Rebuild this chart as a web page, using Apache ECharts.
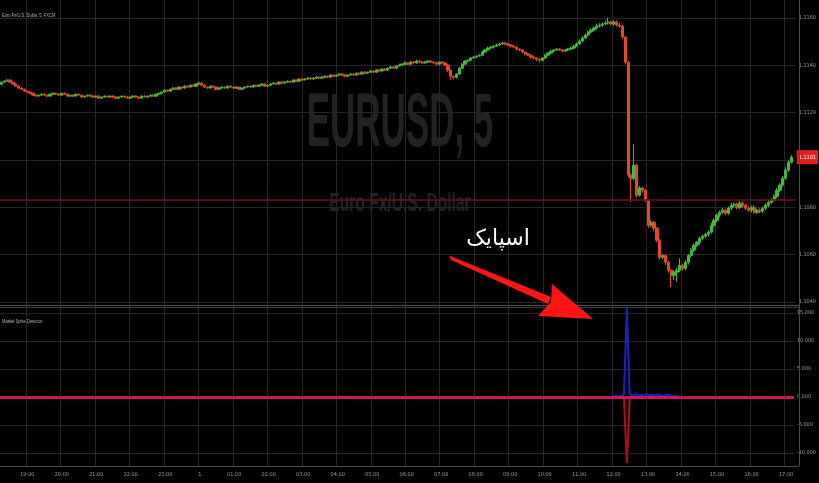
<!DOCTYPE html>
<html><head><meta charset="utf-8">
<script src="https://cdn.jsdelivr.net/npm/echarts@6/dist/echarts.min.js"></script>
<style>html,body{margin:0;padding:0;background:#000;}#c{width:819px;height:483px;}</style>
</head><body><div id="c"></div>
<script>
// ---- data ----
const firstOpen = 1.11320;
const closes = [
1.11329,1.11333,1.11338,1.11329,1.11321,1.11312,1.11304,1.11299,1.11291,1.11287,
1.11282,1.11274,1.11270,1.11274,1.11278,1.11274,1.11270,1.11278,1.11282,1.11278,
1.11274,1.11282,1.11278,1.11270,1.11274,1.11270,1.11278,1.11274,1.11266,1.11270,
1.11274,1.11270,1.11266,1.11270,1.11261,1.11266,1.11270,1.11266,1.11270,1.11266,
1.11261,1.11266,1.11270,1.11266,1.11261,1.11266,1.11270,1.11266,1.11261,1.11270,
1.11266,1.11270,1.11274,1.11270,1.11278,1.11282,1.11287,1.11295,1.11291,1.11299,
1.11304,1.11299,1.11308,1.11304,1.11312,1.11308,1.11316,1.11312,1.11321,1.11325,
1.11316,1.11308,1.11304,1.11312,1.11308,1.11299,1.11304,1.11308,1.11304,1.11312,
1.11308,1.11304,1.11308,1.11299,1.11304,1.11308,1.11312,1.11308,1.11316,1.11312,
1.11316,1.11321,1.11312,1.11316,1.11321,1.11325,1.11321,1.11329,1.11325,1.11329,
1.11333,1.11329,1.11338,1.11333,1.11342,1.11338,1.11342,1.11346,1.11342,1.11346,
1.11350,1.11346,1.11350,1.11354,1.11350,1.11359,1.11354,1.11359,1.11363,1.11359,
1.11354,1.11359,1.11363,1.11359,1.11367,1.11363,1.11371,1.11367,1.11371,1.11376,
1.11371,1.11380,1.11376,1.11384,1.11380,1.11388,1.11393,1.11388,1.11397,1.11401,
1.11405,1.11410,1.11405,1.11414,1.11410,1.11418,1.11414,1.11410,1.11414,1.11418,
1.11414,1.11410,1.11405,1.11414,1.11410,1.11401,1.11380,1.11354,1.11350,1.11363,
1.11388,1.11405,1.11418,1.11422,1.11431,1.11435,1.11439,1.11443,1.11456,1.11465,
1.11473,1.11477,1.11481,1.11486,1.11490,1.11494,1.11490,1.11486,1.11481,1.11477,
1.11469,1.11465,1.11456,1.11448,1.11443,1.11435,1.11431,1.11426,1.11422,1.11431,
1.11443,1.11452,1.11460,1.11465,1.11469,1.11465,1.11460,1.11465,1.11469,1.11473,
1.11481,1.11490,1.11503,1.11515,1.11528,1.11541,1.11549,1.11558,1.11566,1.11570,
1.11575,1.11579,1.11583,1.11575,1.11583,1.11570,1.11566,1.11520,1.11414,1.10936,
1.10923,1.10978,1.10851,1.10882,1.10872,1.10830,1.10724,1.10737,1.10712,1.10661,
1.10589,1.10597,1.10568,1.10534,1.10513,1.10526,1.10534,1.10555,1.10542,1.10568,
1.10597,1.10619,1.10640,1.10652,1.10669,1.10678,1.10686,1.10695,1.10724,1.10745,
1.10767,1.10779,1.10788,1.10775,1.10796,1.10809,1.10813,1.10800,1.10817,1.10809,
1.10796,1.10788,1.10800,1.10779,1.10788,1.10784,1.10796,1.10809,1.10821,1.10830,
1.10847,1.10872,1.10894,1.10923,1.10957,1.10991,1.11012
];
// wick lengths beyond the body, in pipettes (0.00001)
const hiWick = [
3,4,3,2,3,2,3,3,2,3, 2,3,3,2,3,4,2,3,3,2, 3,2,3,3,2,3,3,2,3,2, 3,3,2,3,3,2,3,2,3,3,
2,3,3,2,3,2,3,3,2,3, 3,2,3,3,2,3,3,4,3,3, 4,3,3,2,4,3,3,3,4,6, 3,3,2,3,3,2,3,3,2,3,
3,3,2,3,3,3,2,3,3,2, 3,3,2,3,3,3,2,3,3,4, 3,3,4,3,3,2,3,4,3,3, 3,3,4,3,3,4,3,3,4,3,
3,3,4,3,3,3,4,3,3,4, 3,4,3,3,4,3,5,3,4,6, 4,6,3,5,4,6,4,3,5,4, 3,4,6,3,4,3,3,2,3,4,
6,5,4,3,4,5,3,4,6,5, 6,4,5,6,7,6,4,3,3,3, 3,3,3,2,3,3,2,3,3,3, 4,3,5,4,3,3,3,4,5,6,
6,7,6,8,7,6,8,7,10,8, 7,10,18,6,8,7,10,6,5,3, 8,90,6,8,5,6,4,8,5,4,
6,5,4,6,5,8,10,30,6,8, 6,8,7,6,8,7,6,8,10,8, 7,8,10,6,8,12,7,6,10,8,
6,8,7,10,6,8,7,8,10,8, 8,10,8,10,12,10,8
];
const loWick = [
2,3,2,3,3,2,3,3,2,3, 3,3,3,2,3,3,4,2,3,3, 2,3,3,2,3,3,2,3,3,3, 3,2,3,3,2,3,3,2,3,3,
3,2,3,3,2,3,2,3,3,2, 2,3,3,2,3,2,3,2,3,3, 3,3,2,4,3,3,2,3,3,2, 4,3,3,3,2,4,3,3,3,3,
3,2,3,3,3,2,3,3,2,3, 2,3,3,2,3,3,3,2,3,3, 3,3,2,3,3,3,2,3,3,3, 3,3,3,2,3,3,4,3,3,3,
3,3,3,4,3,3,3,4,3,3, 4,3,4,3,3,4,3,3,4,3, 3,4,3,5,3,4,6,4,3,4, 4,3,4,6,3,4,8,15,10,6,
4,3,4,5,3,4,5,4,3,4, 3,4,5,3,4,3,5,4,6,5, 6,5,4,6,5,7,6,8,10,6, 5,4,6,5,3,4,5,3,4,3,
4,3,4,5,4,6,4,5,4,6, 6,5,7,6,8,6,7,8,10,8, 100,8,10,6,10,8,10,6,12,8,
10,8,12,10,50,20,40,8,10,8, 10,8,6,8,10,7,8,10,6,8, 8,10,7,8,6,8,10,8,7,10,
8,7,10,8,7,10,8,7,8,6, 6,8,7,6,8,6,5
];
const refLevel = 1.1083;
const priceMin = 1.104, priceMax = 1.116, priceStep = 0.002;
const oscMin = -10, oscMax = 15, oscStep = 5;
const spikeStart = 214;
const spikeUp = [0.1,0.2,0.1,0.2,0.4,15.9,0.6,0.2,0.5,0.3,0.4,0.2,0.5,0.3,0.4,0.2,0.5,0.3,0.2,0.4,0.3,0.2,0.1,0.3];
const spikeDown = [-0.1,-0.1,-0.2,-0.1,-0.3,-11.8,-0.3,-0.2,-0.1,-0.1,0,-0.1,0,-0.1,0,0,-0.1,0,0,0,0,0,0,0];
const zeroLevel = 0;
const timeLabels = ['19:00','20:00','21:00','22:00','23:00','1','01:00','02:00','03:00','04:00','05:00','06:00',
  '07:00','08:00','09:00','10:00','11:00','12:00','13:00','14:00','15:00','16:00','17:00'];
const labelFirstIndex = 9, labelStep = 12, slotCount = 278;
const symbolTitle = 'Euro Fx/U.S. Dollar, 5, FXCM';
const watermark = 'EURUSD, 5';
const watermarkSub = 'Euro Fx/U.S. Dollar';
const indicatorTitle = 'Market Spike Detector';
const annotation = 'اسپایک';

// ---- build ----
const cats = [];
for (let i = 0; i < slotCount; i++) cats.push(String(i));
const candles = closes.map((c, i) => {
  const o = i === 0 ? firstOpen : closes[i - 1];
  const hi = Math.max(o, c) + hiWick[i] * 1e-5;
  const lo = Math.min(o, c) - loWick[i] * 1e-5;
  return [o, c, lo, hi];
});
const upData = new Array(closes.length).fill(null);
const dnData = new Array(closes.length).fill(null);
spikeUp.forEach((v, k) => upData[spikeStart + k] = v);
spikeDown.forEach((v, k) => dnData[spikeStart + k] = v);
const isLabel = (idx) => idx >= labelFirstIndex && (idx - labelFirstIndex) % labelStep === 0;
const lastClose = closes[closes.length - 1];

const narrow = 'Liberation Sans Narrow, DejaVu Sans Condensed, Liberation Sans, sans-serif';
const axisFont = { fontSize: 5.5, color: '#9a9a9a', fontFamily: narrow };
const gridLine = { color: '#262626', width: 1 };

const chart = echarts.init(document.getElementById('c'), null, { renderer: 'canvas' });
chart.setOption({
  backgroundColor: '#000',
  animation: false,
  grid: [
    { left: 0, right: 20, top: 18, height: 284 },
    { left: 0, right: 20, top: 313, height: 140 },
    { left: 0, right: 20, top: 0, height: 466 }
  ],
  xAxis: [
    { gridIndex: 0, type: 'category', data: cats, show: false },
    { gridIndex: 1, type: 'category', data: cats, show: false },
    { gridIndex: 2, type: 'category', data: cats,
      axisLine: { show: true, lineStyle: { color: '#4a4a4a' } },
      axisTick: { show: false },
      axisLabel: Object.assign({ interval: (idx) => isLabel(idx), margin: 6,
        formatter: (v, idx) => isLabel(idx) ? timeLabels[(idx - labelFirstIndex) / labelStep] : '' }, axisFont),
      splitLine: { show: true, interval: (idx) => isLabel(idx), lineStyle: gridLine } }
  ],
  yAxis: [
    { gridIndex: 0, type: 'value', position: 'right', min: priceMin, max: priceMax, interval: priceStep,
      axisLine: { show: false }, axisTick: { show: false },
      axisLabel: Object.assign({ margin: 3, formatter: (v) => v.toFixed(4) }, axisFont),
      splitLine: { show: true, lineStyle: gridLine } },
    { gridIndex: 1, type: 'value', position: 'right', min: oscMin, max: oscMax, interval: oscStep,
      axisLine: { show: false }, axisTick: { show: false },
      axisLabel: Object.assign({ margin: 3, formatter: (v) => v.toFixed(3) }, axisFont),
      splitLine: { show: true, lineStyle: gridLine } },
    { gridIndex: 2, type: 'value', min: 0, max: 1, show: false }
  ],
  series: [
    { type: 'line', xAxisIndex: 0, yAxisIndex: 0, data: closes, symbol: 'none', silent: true, z: 1,
      lineStyle: { opacity: 0 },
      markLine: { silent: true, symbol: 'none', animation: false, precision: 5,
        data: [
          { yAxis: refLevel, lineStyle: { color: '#701010', width: 1.5, type: 'solid' }, label: { show: false } },
          { yAxis: lastClose, lineStyle: { color: 'rgba(0,0,0,0)', width: 0.1, type: 'solid' },
            label: { show: true, position: 'end', distance: 1, formatter: () => lastClose.toFixed(4),
              backgroundColor: '#e3201b', color: '#fff', fontSize: 5.5, padding: [4, 2], fontFamily: narrow } }
        ] } },
    { type: 'candlestick', xAxisIndex: 0, yAxisIndex: 0, data: candles, clip: false, barWidth: 2.8, z: 3,
      itemStyle: { color: '#43b83a', color0: '#e8452a', borderColor: '#43b83a', borderColor0: '#e8452a', borderWidth: 1 } },
    { type: 'line', xAxisIndex: 1, yAxisIndex: 1, data: dnData, clip: false, symbol: 'none', z: 2,
      lineStyle: { color: '#b3100e', width: 2 },
      markLine: { silent: true, symbol: 'none', label: { show: false }, precision: 3,
        lineStyle: { color: '#d0145a', width: 3, type: 'solid' }, data: [{ yAxis: zeroLevel }] } },
    { type: 'line', xAxisIndex: 1, yAxisIndex: 1, data: upData, clip: false, symbol: 'none', z: 3,
      lineStyle: { color: '#1b22c4', width: 2 } }
  ],
  graphic: [
    { type: 'text', x: 400, y: 125, scaleX: 0.46, z: -1, silent: true,
      style: { text: watermark, fill: '#222', font: 'bold 76px Liberation Sans, sans-serif', align: 'center', verticalAlign: 'middle' } },
    { type: 'text', x: 400, y: 204, scaleX: 0.6, z: -1, silent: true,
      style: { text: watermarkSub, fill: '#222', font: 'bold 26px Liberation Sans, sans-serif', align: 'center', verticalAlign: 'middle' } },
    { type: 'text', x: 2, y: 15, scaleX: 0.68, z: 50,
      style: { text: symbolTitle, fill: '#b5b5b5', font: '6px Liberation Sans, sans-serif', verticalAlign: 'middle' } },
    { type: 'text', x: 2, y: 321, scaleX: 0.68, z: 50,
      style: { text: indicatorTitle, fill: '#b5b5b5', font: '6px Liberation Sans, sans-serif', verticalAlign: 'middle' } },
    { type: 'line', z: 50, shape: { x1: 0, y1: 305.5, x2: 799, y2: 305.5 }, style: { stroke: '#505050', lineWidth: 1 } },
    { type: 'line', z: 50, shape: { x1: 0, y1: 307.5, x2: 799, y2: 307.5 }, style: { stroke: '#3a3a3a', lineWidth: 1 } },
    { type: 'line', z: 50, shape: { x1: 799.5, y1: 0, x2: 799.5, y2: 466 }, style: { stroke: '#4a4a4a', lineWidth: 1 } },
    { type: 'text', x: 498, y: 239, z: 100,
      style: { text: annotation, fill: '#ffffff', font: '22px DejaVu Sans, sans-serif', align: 'center', verticalAlign: 'middle' } },
    { type: 'polygon', z: 100, shape: { points: [[449, 255.5], [451, 260], [548, 304], [551, 297]] }, style: { fill: '#ff1414' } },
    { type: 'polygon', z: 100, shape: { points: [[593, 319], [538, 316], [551, 302], [552, 284]] }, style: { fill: '#ff1414' } }
  ]
});
</script></body></html>
